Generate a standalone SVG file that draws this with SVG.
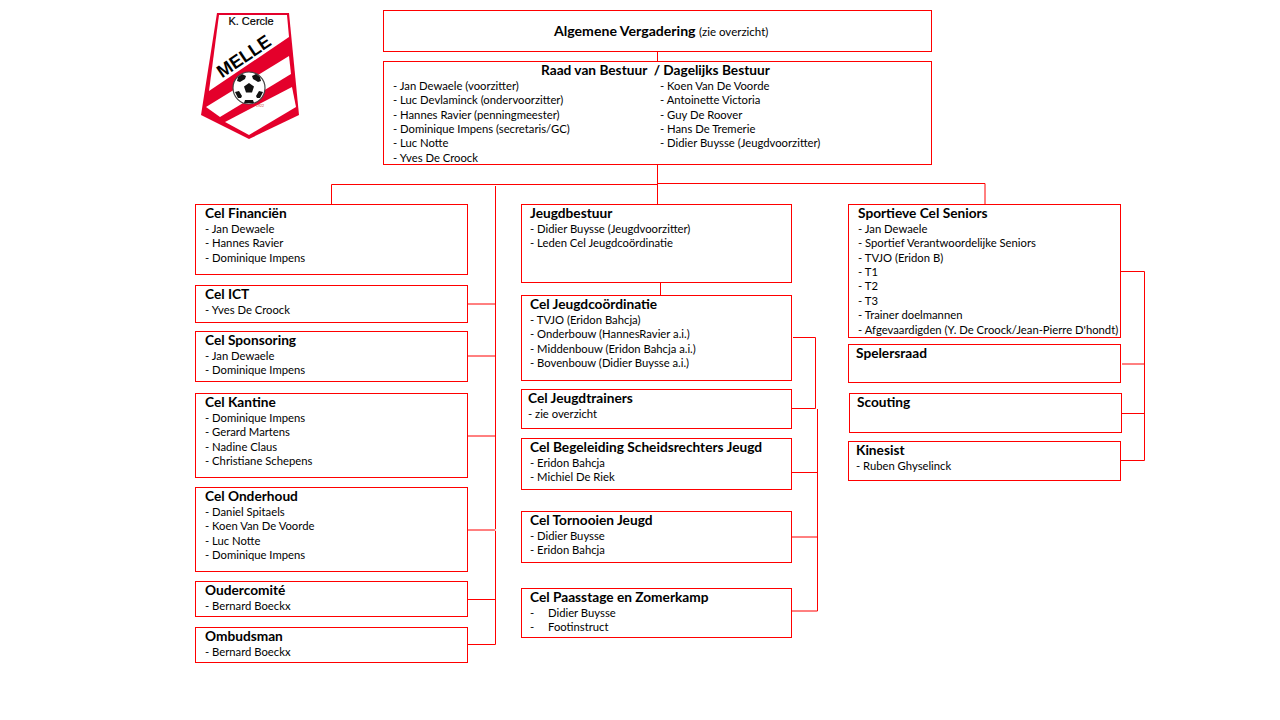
<svg xmlns="http://www.w3.org/2000/svg" width="1280" height="720" viewBox="0 0 1280 720">
<style>
text{font-family:"Lato","Open Sans","Liberation Sans",sans-serif;fill:#000}
.t{font-size:13.7px;font-weight:700}
.b{font-size:11.27px}
.box{fill:#fff;stroke:#f00;stroke-width:1}
.c{fill:none;stroke:#f00;stroke-width:1}
</style>
<rect width="1280" height="720" fill="#fff"/>
<g id="connectors">
<path class="c" d="M657.5 51V61M657.5 164V204M660.5 282V295"/>
<path class="c" d="M331.5 204V184.5H657.5M657.5 183.5H985V204"/>
<path class="c" d="M495.5 186V529M495.5 531V644.5"/>
<path class="c" d="M467 304H495.5M467 356H495.5M467 436H495.5M467 530H495.5M467 599.5H495.5M467 644.5H495.5"/>
<path class="c" d="M793 337.5H815.5V408.5H791M817.5 409V611H791M791 472.5H817.5M791 537H817.5"/>
<path class="c" d="M1120 271.5H1144.5V460.5H1120M1122 364H1144.5M1120 413.5H1144.5"/>
</g>
<g id="logo">
<path d="M217 13H289L299 115L249 139L201 115Z" fill="#e4002b"/>
<path d="M219 15H287L289 37L209 91Z" fill="#fff"/>
<path d="M206 107L289 56L291 74L220 117Z" fill="#fff"/>
<path d="M225 122L292 87L296 107L249 135Z" fill="#fff"/>
<text x="251" y="25" text-anchor="middle" style="font-family:'Liberation Sans',sans-serif;font-size:11px;font-weight:400;stroke:#000;stroke-width:.2">K. Cercle</text>
<text x="0" y="0" transform="translate(222 78.5) rotate(-34)" style="font-family:'Liberation Sans',sans-serif;font-size:18px;font-weight:700">MELLE</text>
<circle cx="249" cy="88" r="16" fill="#fff" stroke="#444" stroke-width="1.2"/>
<path d="M249 83l5 3.5-2 6h-6l-2-6ZM242 74l4 2-1 3-5 3-3-1 1-4ZM256 74l-4 2 1 3 5 3 3-1-1-4ZM235 92l4-1 3 5-1 2-3 0ZM263 92l-4-1-3 5 1 2 3 0ZM245 100l8 0 1 3-10 0Z" fill="#111"/>
<text x="260" y="107" text-anchor="middle" style="font-family:'Liberation Sans',sans-serif;font-size:3.5px;fill:#c33">1922</text>
</g>
<g id="algemene-vergadering">
<rect class="box" x="383.5" y="10.5" width="548" height="41"/>
<text x="554" y="36" class="t" style="font-size:14.1px">Algemene Vergadering <tspan class="b" font-weight="400" style="font-size:11.5px">(zie overzicht)</tspan></text>
</g>
<g id="raad-van-bestuur">
<rect class="box" x="383.5" y="61.5" width="548" height="103"/>
<text x="541" y="75" class="t" xml:space="preserve">Raad van Bestuur  / Dagelijks Bestuur</text>
<text class="b" x="393" y="90">- Jan Dewaele (voorzitter)</text>
<text class="b" x="393" y="104">- Luc Devlaminck (ondervoorzitter)</text>
<text class="b" x="393" y="119">- Hannes Ravier (penningmeester)</text>
<text class="b" x="393" y="133">- Dominique Impens (secretaris/GC)</text>
<text class="b" x="393" y="147">- Luc Notte</text>
<text class="b" x="393" y="162">- Yves De Croock</text>
<text class="b" x="660" y="90">- Koen Van De Voorde</text>
<text class="b" x="660" y="104">- Antoinette Victoria</text>
<text class="b" x="660" y="119">- Guy De Roover</text>
<text class="b" x="660" y="133">- Hans De Tremerie</text>
<text class="b" x="660" y="147">- Didier Buysse (Jeugdvoorzitter)</text>
</g>
<g id="cel-financien">
<rect class="box" x="195.5" y="204.5" width="272" height="70"/>
<text class="t" x="205" y="218">Cel Financiën</text>
<text class="b" x="205" y="233">- Jan Dewaele</text>
<text class="b" x="205" y="247">- Hannes Ravier</text>
<text class="b" x="205" y="262">- Dominique Impens</text>
</g>
<g id="cel-ict">
<rect class="box" x="195.5" y="285.5" width="272" height="37"/>
<text class="t" x="205" y="299">Cel ICT</text>
<text class="b" x="205" y="314">- Yves De Croock</text>
</g>
<g id="cel-sponsoring">
<rect class="box" x="195.5" y="331.5" width="272" height="50"/>
<text class="t" x="205" y="345">Cel Sponsoring</text>
<text class="b" x="205" y="360">- Jan Dewaele</text>
<text class="b" x="205" y="374">- Dominique Impens</text>
</g>
<g id="cel-kantine">
<rect class="box" x="195.5" y="393.5" width="272" height="84"/>
<text class="t" x="205" y="407">Cel Kantine</text>
<text class="b" x="205" y="422">- Dominique Impens</text>
<text class="b" x="205" y="436">- Gerard Martens</text>
<text class="b" x="205" y="451">- Nadine Claus</text>
<text class="b" x="205" y="465">- Christiane Schepens</text>
</g>
<g id="cel-onderhoud">
<rect class="box" x="195.5" y="487.5" width="272" height="84"/>
<text class="t" x="205" y="501">Cel Onderhoud</text>
<text class="b" x="205" y="516">- Daniel Spitaels</text>
<text class="b" x="205" y="530">- Koen Van De Voorde</text>
<text class="b" x="205" y="545">- Luc Notte</text>
<text class="b" x="205" y="559">- Dominique Impens</text>
</g>
<g id="oudercomite">
<rect class="box" x="195.5" y="581.5" width="272" height="35"/>
<text class="t" x="205" y="595">Oudercomité</text>
<text class="b" x="205" y="610">- Bernard Boeckx</text>
</g>
<g id="ombudsman">
<rect class="box" x="195.5" y="627.5" width="272" height="35"/>
<text class="t" x="205" y="641">Ombudsman</text>
<text class="b" x="205" y="656">- Bernard Boeckx</text>
</g>
<g id="jeugdbestuur">
<rect class="box" x="521.5" y="204.5" width="270" height="78"/>
<text class="t" x="530" y="218">Jeugdbestuur</text>
<text class="b" x="530" y="233">- Didier Buysse (Jeugdvoorzitter)</text>
<text class="b" x="530" y="247">- Leden Cel Jeugdcoördinatie</text>
</g>
<g id="cel-jeugdcoordinatie">
<rect class="box" x="521.5" y="295.5" width="270" height="85"/>
<text class="t" x="530" y="309">Cel Jeugdcoördinatie</text>
<text class="b" x="530" y="324">- TVJO (Eridon Bahcja)</text>
<text class="b" x="530" y="338">- Onderbouw (HannesRavier a.i.)</text>
<text class="b" x="530" y="353">- Middenbouw (Eridon Bahcja a.i.)</text>
<text class="b" x="530" y="367">- Bovenbouw (Didier Buysse a.i.)</text>
</g>
<g id="cel-jeugdtrainers">
<rect class="box" x="521.5" y="389.5" width="270" height="39"/>
<text class="t" x="528" y="403">Cel Jeugdtrainers</text>
<text class="b" x="528" y="418">- zie overzicht</text>
</g>
<g id="cel-begeleiding">
<rect class="box" x="521.5" y="438.5" width="270" height="51"/>
<text class="t" x="530" y="452">Cel Begeleiding Scheidsrechters Jeugd</text>
<text class="b" x="530" y="467">- Eridon Bahcja</text>
<text class="b" x="530" y="481">- Michiel De Riek</text>
</g>
<g id="cel-tornooien">
<rect class="box" x="521.5" y="511.5" width="270" height="51"/>
<text class="t" x="530" y="525">Cel Tornooien Jeugd</text>
<text class="b" x="530" y="540">- Didier Buysse</text>
<text class="b" x="530" y="554">- Eridon Bahcja</text>
</g>
<g id="cel-paasstage">
<rect class="box" x="521.5" y="588.5" width="270" height="49"/>
<text class="t" x="530" y="602">Cel Paasstage en Zomerkamp</text>
<text class="b" x="530" y="617">-</text>
<text class="b" x="548" y="617">Didier Buysse</text>
<text class="b" x="530" y="631">-</text>
<text class="b" x="548" y="631">Footinstruct</text>
</g>
<g id="sportieve-cel-seniors">
<rect class="box" x="848.5" y="204.5" width="272" height="133"/>
<text class="t" x="858" y="218">Sportieve Cel Seniors</text>
<text class="b" x="858" y="233">- Jan Dewaele</text>
<text class="b" x="858" y="247">- Sportief Verantwoordelijke Seniors</text>
<text class="b" x="858" y="262">- TVJO (Eridon B)</text>
<text class="b" x="858" y="276">- T1</text>
<text class="b" x="858" y="290">- T2</text>
<text class="b" x="858" y="305">- T3</text>
<text class="b" x="858" y="319">- Trainer doelmannen</text>
<text class="b" x="858" y="334">- Afgevaardigden (Y. De Croock/Jean-Pierre D'hondt)</text>
</g>
<g id="spelersraad">
<rect class="box" x="848.5" y="344.5" width="272" height="38"/>
<text class="t" x="856" y="358">Spelersraad</text>
</g>
<g id="scouting">
<rect class="box" x="849.5" y="393.5" width="272" height="39"/>
<text class="t" x="857" y="407">Scouting</text>
</g>
<g id="kinesist">
<rect class="box" x="848.5" y="441.5" width="272" height="39"/>
<text class="t" x="856" y="455">Kinesist</text>
<text class="b" x="856" y="470">- Ruben Ghyselinck</text>
</g>
</svg>
